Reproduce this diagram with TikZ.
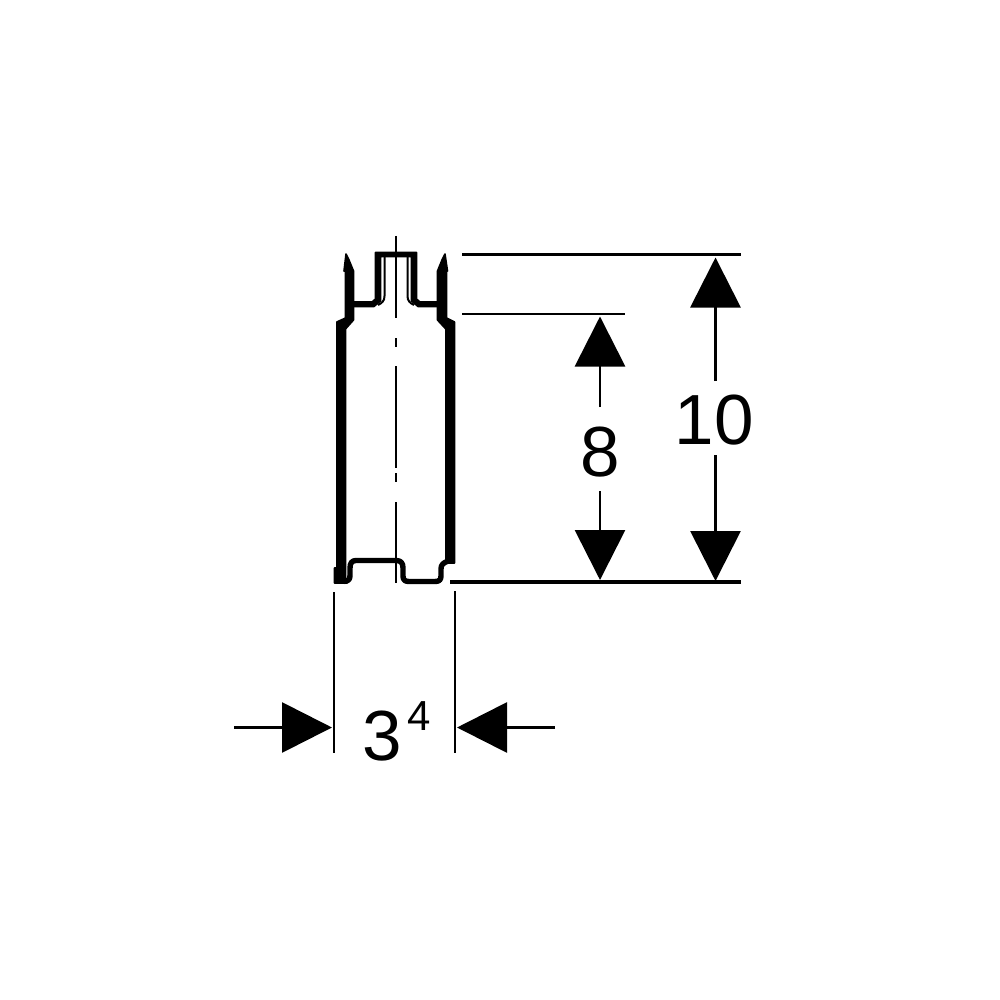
\documentclass[tikz,border=0pt]{standalone}
\usepackage{fontspec}
\setmainfont{Liberation Sans}
\usetikzlibrary{arrows.meta}
\tikzset{
 dim/.style={line width=2.8pt,-{Triangle[length=50pt,width=50pt,inset=0pt]}},
 exth/.style={line width=3.2pt},
 extm/.style={line width=2.6pt},
 extv/.style={line width=2.8pt},
 wall/.style={fill=black,draw=black,line width=1.6pt,line join=round},
 thin/.style={line width=2.8pt},
 prof/.style={line width=5.4pt,line join=round},
 num/.style={inner sep=0pt,font=\fontsize{71}{71}\selectfont}
}
\begin{document}
\begin{tikzpicture}[x=1pt,y=-1pt]
\useasboundingbox (0,0) rectangle (1000,1000);
% walls
\path[wall] (346,254) -- (349,260) -- (353.5,271) -- (353.5,320) -- (345.5,329) -- (345.5,565) -- (345.5,578) -- (347,583) -- (334.5,583) -- (334.5,568) -- (336.8,568) -- (336.8,322) -- (345.5,318) -- (345.5,271) -- (344,271) -- cycle;
\path[wall] (445,254) -- (442,260) -- (437.5,271) -- (437.5,320) -- (445.8,329) -- (445.8,563) -- (454.5,563) -- (454.5,322) -- (446.5,318) -- (446.5,271) -- (447.5,271) -- cycle;
% top connector
\path[wall] (354,302) -- (372,302) -- (375.5,299) -- (375.5,252.5) -- (416.5,252.5) -- (416.5,299) -- (420,302) -- (437,302) -- (437,306.5) -- (418,306.5) -- (411.5,301) -- (411.5,256.5) -- (380.5,256.5) -- (380.5,301) -- (374,306.5) -- (354,306.5) -- cycle;
\draw[line width=2pt] (384.5,257) -- (384.5,296) .. controls (384.5,301) and (382,303) .. (378,305);
\draw[line width=2pt] (407.5,257) -- (407.5,296) .. controls (407.5,301) and (410,303) .. (414,305);
% bottom profile
\draw[prof] (344,581.5) .. controls (349,581) and (350,579) .. (350,575) -- (350,568) .. controls (350,563) and (352,560.5) .. (356,560.5) -- (396,560.5) .. controls (401,560.5) and (403,563) .. (403,568) -- (403,576) .. controls (403,580) and (405,581.5) .. (409,581.5) -- (435,581.5) .. controls (439,581.5) and (441,580) .. (441,576) -- (441,569) .. controls (441,565) and (443,563) .. (447,561.5);
% centre line
\coordinate (c1) at (396,236); \coordinate (c2) at (396,318);
\coordinate (c3) at (396,338); \coordinate (c4) at (396,347);
\coordinate (c5) at (396,366); \coordinate (c6) at (396,468);
\coordinate (c7) at (396,473); \coordinate (c8) at (396,482);
\coordinate (c9) at (396,502); \coordinate (c10) at (396,583);
\draw[thin] (c1)--(c2) (c3)--(c4) (c5)--(c6) (c7)--(c8) (c9)--(c10);
% extension lines
\coordinate (e1a) at (462,254.5); \coordinate (e1b) at (741,254.5);
\coordinate (e2a) at (462,314); \coordinate (e2b) at (625,314);
\coordinate (e3a) at (450,582); \coordinate (e3b) at (741,582);
\coordinate (e4a) at (334,592); \coordinate (e4b) at (334,753);
\coordinate (e5a) at (455,591); \coordinate (e5b) at (455,753);
\draw[exth] (e1a)--(e1b) (e3a)--(e3b);
\draw[extm] (e2a)--(e2b);
\draw[extv] (e4a)--(e4b) (e5a)--(e5b);
% labels
\node[num] (ten) at (714,420) {10};
\node[num] (eight) at (600,452) {8};
\node[num,anchor=center] (three) at (382,736) {3};
\node[inner sep=0pt,font=\fontsize{42}{42}\selectfont] (four) at (419.5,716) {4};
% dimension arrows
\coordinate (t1) at (715.5,257.5); \coordinate (t2) at (715.5,581);
\coordinate (t3) at (600,316.5); \coordinate (t4) at (600,580);
\coordinate (t5) at (332,727.5); \coordinate (t6) at (457,727.5);
\coordinate (s5) at (234,727.5); \coordinate (s6) at (555,727.5);
\coordinate (a1) at (715.5,381); \coordinate (a2) at (715.5,455);
\coordinate (a3) at (600,407); \coordinate (a4) at (600,491);
\draw[dim] (a1)--(t1);
\draw[dim] (a2)--(t2);
\draw[dim] (a3)--(t3);
\draw[dim] (a4)--(t4);
\draw[dim] (s5)--(t5);
\draw[dim] (s6)--(t6);
\end{tikzpicture}
\end{document}
